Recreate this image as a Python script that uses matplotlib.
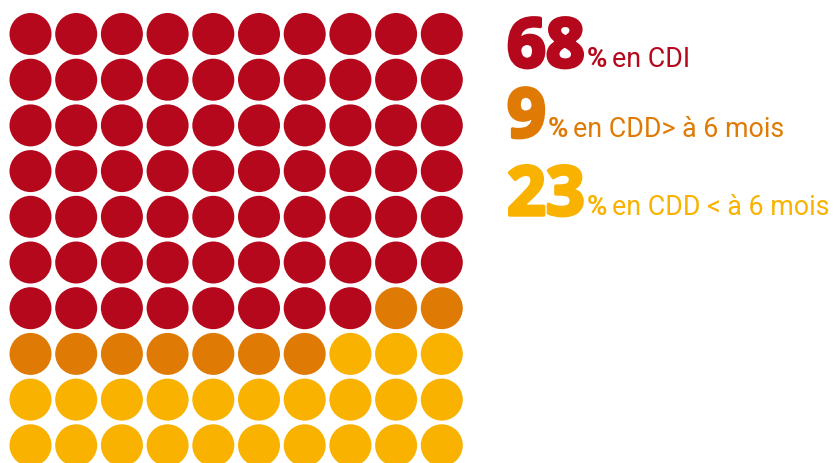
import matplotlib
matplotlib.use("Agg")
import matplotlib.pyplot as plt
import matplotlib.patheffects as pe
from matplotlib.patches import Circle

# -------------------------------
# Data
# -------------------------------
counts = [68, 9, 23]
labels = ["en CDI", "en CDD> à 6 mois", "en CDD < à 6 mois"]
colors = ["#B5081C", "#DF7A05", "#F9B200"]

n_cols = 10
n_rows = 10

# -------------------------------
# Figure (axes in pixel units)
# -------------------------------
W, H = 836, 463
fig = plt.figure(figsize=(W / 100, H / 100), dpi=100)
ax = fig.add_axes([0, 0, 1, 1])
ax.set_xlim(0, W)
ax.set_ylim(H, 0)
ax.axis("off")

# waffle grid
x0, y0, step, r = 30.5, 34, 45.7, 21
cells = []
for c, n in zip(colors, counts):
    cells += [c] * n
for i, c in enumerate(cells):
    row, col = divmod(i, n_cols)
    ax.add_patch(Circle((x0 + col * step, y0 + row * step), r, color=c, lw=0))

# -------------------------------
# Legend text
# -------------------------------
baselines = [67, 137, 215]
fig.canvas.draw()
renderer = fig.canvas.get_renderer()
inv = ax.transData.inverted()

for n, lab, c, yb in zip(counts, labels, colors, baselines):
    t1 = ax.text(507, yb, str(n), color=c, fontsize=49, fontweight="bold",
                 family="Open Sans", va="baseline", ha="left",
                 path_effects=[pe.withStroke(linewidth=2.5, foreground=c)])
    bb = t1.get_window_extent(renderer)
    xe = inv.transform((bb.x1, bb.y0))[0]
    t2 = ax.text(xe + 2, yb, "%", color=c, fontsize=20, fontweight="bold",
                 family="Roboto", va="baseline", ha="left")
    bb2 = t2.get_window_extent(renderer)
    xe2 = inv.transform((bb2.x1, bb2.y0))[0]
    ax.text(xe2 + 5, yb, lab, color=c, fontsize=19.3, family="Roboto",
            va="baseline", ha="left")

fig.savefig("out.png", dpi=100)
